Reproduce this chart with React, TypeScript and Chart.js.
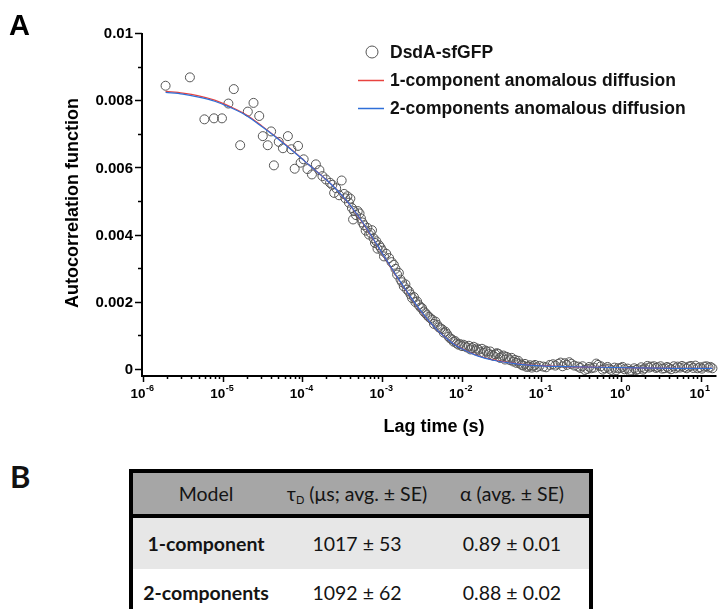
import React, { useEffect, useRef } from "react";
import { Chart, registerables } from "chart.js";
Chart.register(...registerables);

// Measured data: lag time (s) and autocorrelation G(t)
const lagTime = [
  1.92e-6, 3.88e-6, 5.9e-6, 7.78e-6, 9.8e-6, 1.18e-5, 1.38e-5, 1.66e-5, 2.07e-5, 2.44e-5,
  2.88e-5, 3.19e-5, 3.68e-5, 4.06e-5, 4.4e-5, 5.06e-5, 5.71e-5, 6.59e-5, 7.29e-5, 8.02e-5,
  8.84e-5, 9.53e-5, 1.04e-4, 1.16e-4, 1.32e-4, 1.48e-4, 1.64e-4, 1.79e-4, 1.98e-4, 2.23e-4,
  2.38e-4, 2.51e-4, 2.66e-4, 2.9e-4, 3.12e-4, 3.35e-4, 3.47e-4, 3.68e-4, 3.85e-4, 4.01e-4,
  4.2e-4, 4.34e-4, 4.47e-4, 4.72e-4, 4.96e-4, 5.23e-4, 5.45e-4, 5.68e-4, 5.95e-4, 6.25e-4,
  6.55e-4, 6.88e-4, 7.2e-4, 7.5e-4, 7.85e-4, 8.18e-4, 8.5e-4, 8.79e-4, 9.2e-4, 9.64e-4,
  1.01e-3, 1.06e-3, 1.13e-3, 1.23e-3, 1.32e-3, 1.41e-3, 1.48e-3, 1.55e-3, 1.63e-3, 1.71e-3,
  1.79e-3, 1.88e-3, 1.97e-3, 2.07e-3, 2.18e-3, 2.28e-3, 2.39e-3, 2.52e-3, 2.63e-3, 2.76e-3,
  2.9e-3, 3.05e-3, 3.19e-3, 3.35e-3, 3.52e-3, 3.7e-3, 3.87e-3, 4.06e-3, 4.3e-3, 4.5e-3,
  4.69e-3, 4.95e-3, 5.18e-3, 5.42e-3, 5.7e-3, 5.97e-3, 6.25e-3, 6.55e-3, 6.88e-3, 7.2e-3,
  7.56e-3, 7.94e-3, 8.3e-3, 8.7e-3, 9.17e-3, 9.6e-3, 1.01e-2, 1.06e-2, 1.11e-2, 1.17e-2,
  1.23e-2, 1.29e-2, 1.35e-2, 1.42e-2, 1.49e-2, 1.56e-2, 1.63e-2, 1.72e-2, 1.8e-2, 1.89e-2,
  1.98e-2, 2.07e-2, 2.18e-2, 2.29e-2, 2.39e-2, 2.52e-2, 2.64e-2, 2.76e-2, 2.9e-2, 3.04e-2,
  3.19e-2, 3.35e-2, 3.51e-2, 3.68e-2, 3.87e-2, 4.06e-2, 4.25e-2, 4.46e-2, 4.69e-2, 4.9e-2,
  5.15e-2, 5.4e-2, 5.68e-2, 5.95e-2, 6.25e-2, 6.55e-2, 6.88e-2, 7.2e-2, 7.6e-2, 7.95e-2,
  8.34e-2, 8.75e-2, 0.095, 0.106, 0.115, 0.128, 0.14, 0.15, 0.163, 0.175,
  0.185, 0.198, 0.21, 0.225, 0.239, 0.26, 0.29, 0.31, 0.33, 0.352,
  0.38, 0.4, 0.425, 0.46, 0.49, 0.516, 0.56, 0.59, 0.625, 0.68,
  0.71, 0.757, 0.83, 0.87, 0.917, 1.0, 1.05, 1.11, 1.22, 1.28,
  1.35, 1.47, 1.55, 1.63, 1.8, 1.9, 1.98, 2.15, 2.25, 2.39,
  2.6, 2.75, 2.9, 3.15, 3.3, 3.52, 3.8, 4.0, 4.26, 4.6,
  4.85, 5.16, 5.5, 5.85, 6.25, 6.7, 7.1, 7.57, 8.1, 8.6,
  9.17, 9.8, 10.4, 11.1, 11.9, 12.6, 13.3, 14.1,
];
const acf = [
  0.00843, 0.00868, 0.00743, 0.00746, 0.00746, 0.0079, 0.00833, 0.00666, 0.00766, 0.00792,
  0.00753, 0.00693, 0.00666, 0.00707, 0.00606, 0.00676, 0.00657, 0.00693, 0.00654, 0.00596,
  0.00664, 0.00614, 0.00624, 0.00595, 0.00579, 0.00609, 0.00592, 0.00574, 0.00564, 0.00554,
  0.00548, 0.00524, 0.00538, 0.00517, 0.00561, 0.00521, 0.00508, 0.00514, 0.00495, 0.00507,
  0.00479, 0.00445, 0.0047, 0.00458, 0.0047, 0.00463, 0.00448, 0.00436, 0.00428, 0.00412,
  0.0042, 0.004, 0.00405, 0.00413, 0.00389, 0.00375, 0.0038, 0.00358, 0.00368, 0.00361,
  0.00352, 0.00335, 0.00343, 0.0033, 0.00318, 0.0031, 0.00298, 0.00281, 0.00286, 0.00266,
  0.00258, 0.00246, 0.00252, 0.00236, 0.00231, 0.00222, 0.00211, 0.00214, 0.00199, 0.00201,
  0.0019, 0.00183, 0.00181, 0.00171, 0.00166, 0.0016, 0.00155, 0.00151, 0.00146, 0.00134,
  0.00141, 0.00131, 0.00124, 0.00121, 0.00118, 0.00108, 0.00111, 0.00104, 0.00096, 0.00091,
  0.00088, 0.00081, 0.00083, 0.00076, 0.00072, 0.00074, 0.00068, 0.00072, 0.00067, 0.00064,
  0.00069, 0.00058, 0.00062, 0.00066, 0.00055, 0.00061, 0.00057, 0.0005, 0.0006, 0.00048,
  0.00055, 0.00052, 0.00044, 0.00052, 0.00042, 0.00039, 0.00044, 0.00047, 0.00045, 0.00033,
  0.00037, 0.0004, 0.00028, 0.00036, 0.00032, 0.00026, 0.00033, 0.00022, 0.00027, 0.00018,
  0.00024, 0.00016, 0.00012, 0.0001, 0.00015, 0.00006, 0.00007, 0.00011, 0.00004, 0.00009,
  0.00012, 0.00005, 0.00009, 0.00007, 0.00005, 0.00012, 0.00014, 0.0001, 0.00015, 0.00019,
  0.00008, 0.00017, 0.00012, 0.0002, 0.00015, 0.0001, 0.00007, 0.00003, 0.00008, -0.00003,
  0.0, 0.00006, 0.00002, 0.00004, 0.00016, 0.00012, 0.00008, -0.00002, 0.00002, 0.00006,
  0.00001, -0.00003, 0.00004, -0.00004, 0.00002, 0.00003, 0.00006, -0.00001, 0.00001, -0.00006,
  -0.00005, 0.00002, -0.00003, -0.00001, 0.00005, -0.00002, 0.00002, 0.00009, 0.00004, 0.00007,
  0.00008, 0.00003, 0.00005, 0.00008, 0.00001, 0.00002, 0.00006, 0.00003, -0.00001, 0.00008,
  0.00002, 0.00007, 0.00004, 0.00009, 0.00005, 0.00002, 0.00007, 0.00009, 0.00003, 0.0001,
  0.00002, 0.00005, 0.00001, 0.00007, 0.00008, 0.00004, 0.00006, 0.00002,
];

// Fit curves
const fitTime = [
  1.92e-6, 3.16e-6, 5.01e-6, 7.94e-6, 1.26e-5, 2.0e-5, 3.16e-5, 5.01e-5, 7.94e-5, 1.26e-4,
  2.0e-4, 2.51e-4, 3.16e-4, 3.98e-4, 5.01e-4, 6.31e-4, 7.94e-4, 1.0e-3, 1.26e-3, 1.58e-3,
  2.0e-3, 2.51e-3, 3.16e-3, 3.98e-3, 5.01e-3, 6.31e-3, 7.94e-3, 1.0e-2, 1.58e-2, 2.51e-2,
  3.98e-2, 6.31e-2, 0.1, 0.2, 0.5, 1.58, 5.01, 14.1,
];
const fitOneComponent = [
  0.00826, 0.00821, 0.00813, 0.008, 0.0078, 0.00756, 0.00722, 0.00685, 0.00646, 0.00604,
  0.00563, 0.00541, 0.00515, 0.00487, 0.00455, 0.0042, 0.00383, 0.00345, 0.00307, 0.0027,
  0.00234, 0.002, 0.00168, 0.0014, 0.00114, 0.00093, 0.00075, 0.00061, 0.0004, 0.00027,
  0.00019, 0.00013, 0.0001, 0.00007, 0.00005, 0.00003, 0.00002, 0.00002,
];
const fitTwoComponents = [
  0.00823, 0.00818, 0.00809, 0.00797, 0.00778, 0.00754, 0.0072, 0.00684, 0.00645, 0.00604,
  0.00563, 0.00541, 0.00516, 0.00488, 0.00456, 0.00421, 0.00384, 0.00346, 0.00308, 0.00271,
  0.00235, 0.00201, 0.00169, 0.0014, 0.00114, 0.00093, 0.00074, 0.0006, 0.00039, 0.00026,
  0.00018, 0.00012, 0.00009, 0.00007, 0.00005, 0.00003, 0.00002, 0.00002,
];

// Axis ticks
const xDecadeExponents = [-6, -5, -4, -3, -2, -1, 0, 1];
const yMajorTicks = [0, 0.002, 0.004, 0.006, 0.008, 0.01];
const yTickLabels = ["0", "0.002", "0.004", "0.006", "0.008", "0.01"];
const yMinorTicks = [0.001, 0.003, 0.005, 0.007, 0.009];

const seriesNames = ["DsdA-sfGFP", "1-component anomalous diffusion", "2-components anomalous diffusion"];
const RED = "#e8433f";
const BLUE = "#2e6fd8";

const tableHeaders = ["Model", "τD", "α (avg. ± SE)"];
const tableModels = ["1-component", "2-components"];
const tableTau = ["1017 ± 53", "1092 ± 62"];
const tableAlpha = ["0.89 ± 0.01", "0.88 ± 0.02"];

const ARIAL = '"Liberation Sans", Arial, sans-serif';

const decorPlugin = {
  id: "decor",
  afterDatasetsDraw(chart: any) {
    const ctx = chart.ctx as CanvasRenderingContext2D;
    const xs = chart.scales.x;
    const ys = chart.scales.y;
    const a = chart.chartArea;
    ctx.save();
    ctx.fillStyle = "#000";
    ctx.strokeStyle = "#000";

    // axis lines
    ctx.lineWidth = 2;
    ctx.beginPath();
    ctx.moveTo(a.left - 1, a.top);
    ctx.lineTo(a.left - 1, a.bottom + 1);
    ctx.lineTo(a.right, a.bottom + 1);
    ctx.stroke();

    ctx.lineWidth = 1.5;
    // y ticks
    yMajorTicks.forEach((v) => {
      const py = Math.round(ys.getPixelForValue(v)) + 0.5;
      ctx.beginPath();
      ctx.moveTo(a.left - 8, py);
      ctx.lineTo(a.left - 1, py);
      ctx.stroke();
    });
    yMinorTicks.forEach((v) => {
      const py = Math.round(ys.getPixelForValue(v)) + 0.5;
      ctx.beginPath();
      ctx.moveTo(a.left - 5, py);
      ctx.lineTo(a.left - 1, py);
      ctx.stroke();
    });
    ctx.font = `bold 15px ${ARIAL}`;
    ctx.textAlign = "right";
    ctx.textBaseline = "middle";
    yMajorTicks.forEach((v, i) => {
      const py = ys.getPixelForValue(v);
      ctx.fillText(yTickLabels[i], a.left - 10, py + 1);
    });

    // x ticks
    const xmax = xs.max;
    xDecadeExponents.forEach((e) => {
      for (let k = 1; k <= 9; k++) {
        const v = k * Math.pow(10, e);
        if (v > xmax) break;
        const px = Math.round(xs.getPixelForValue(v)) + 0.5;
        ctx.beginPath();
        ctx.moveTo(px, a.bottom + 1);
        ctx.lineTo(px, a.bottom + (k === 1 ? 7 : 4));
        ctx.stroke();
      }
    });
    xDecadeExponents.forEach((e) => {
      const px = xs.getPixelForValue(Math.pow(10, e));
      ctx.font = `bold 13.5px ${ARIAL}`;
      const w1 = ctx.measureText("10").width;
      ctx.font = `bold 9px ${ARIAL}`;
      const sup = String(e);
      const w2 = ctx.measureText(sup).width;
      const x0 = px - (w1 + w2) / 2 - 1;
      ctx.textAlign = "left";
      ctx.textBaseline = "alphabetic";
      ctx.font = `bold 13.5px ${ARIAL}`;
      ctx.fillText("10", x0, a.bottom + 23);
      ctx.font = `bold 9px ${ARIAL}`;
      ctx.fillText(sup, x0 + w1 + 0.5, a.bottom + 16);
    });

    // axis titles
    ctx.font = `bold 18px ${ARIAL}`;
    ctx.textAlign = "center";
    ctx.textBaseline = "middle";
    ctx.fillText("Lag time (s)", 434, a.bottom + 52);
    ctx.save();
    ctx.translate(73, 203);
    ctx.rotate(-Math.PI / 2);
    ctx.fillText("Autocorrelation function", 0, 0);
    ctx.restore();

    // panel label
    ctx.font = `bold 29px ${ARIAL}`;
    ctx.textAlign = "left";
    ctx.textBaseline = "alphabetic";
    ctx.fillText("A", 9, 35);

    // legend
    ctx.font = `bold 17.5px ${ARIAL}`;
    ctx.textBaseline = "middle";
    ctx.fillStyle = "#111";
    ctx.lineWidth = 1;
    ctx.strokeStyle = "#555";
    ctx.beginPath();
    ctx.arc(372, 52, 6, 0, Math.PI * 2);
    ctx.stroke();
    ctx.fillText(seriesNames[0], 390, 53);
    ctx.lineWidth = 1.5;
    ctx.strokeStyle = RED;
    ctx.beginPath();
    ctx.moveTo(358, 80.5);
    ctx.lineTo(384, 80.5);
    ctx.stroke();
    ctx.fillText(seriesNames[1], 390, 81);
    ctx.strokeStyle = BLUE;
    ctx.beginPath();
    ctx.moveTo(358, 108.5);
    ctx.lineTo(384, 108.5);
    ctx.stroke();
    ctx.fillText(seriesNames[2], 390, 109);
    ctx.restore();
  },
};

function ChartPanel() {
  const ref = useRef<HTMLCanvasElement | null>(null);
  useEffect(() => {
    if (!ref.current) return;
    const chart = new Chart(ref.current, {
      type: "scatter",
      data: {
        datasets: [
          {
            type: "line",
            label: seriesNames[2],
            data: fitTime.map((t, i) => ({ x: t, y: fitTwoComponents[i] })),
            borderColor: BLUE,
            borderWidth: 1.2,
            pointRadius: 0,
            cubicInterpolationMode: "monotone",
            fill: false,
          },
          {
            type: "line",
            label: seriesNames[1],
            data: fitTime.map((t, i) => ({ x: t, y: fitOneComponent[i] })),
            borderColor: RED,
            borderWidth: 1.2,
            pointRadius: 0,
            cubicInterpolationMode: "monotone",
            fill: false,
          },
          {
            label: seriesNames[0],
            data: lagTime.map((t, i) => ({ x: t, y: acf[i] })),
            pointRadius: 4.5,
            pointBorderWidth: 1,
            pointBorderColor: "#555",
            pointBackgroundColor: "rgba(255,255,255,0)",
            showLine: false,
            clip: false,
          },
        ] as any,
      },
      options: {
        animation: false,
        responsive: false,
        maintainAspectRatio: false,
        layout: { padding: { left: 0, right: 3, top: 33, bottom: 0 } },
        plugins: { legend: { display: false }, tooltip: { enabled: false } },
        scales: {
          x: {
            type: "logarithmic",
            min: 1e-6,
            max: 15.85,
            grid: { display: false },
            border: { display: false },
            ticks: { display: false },
            afterFit: (s: any) => {
              s.height = 75;
            },
          },
          y: {
            type: "linear",
            min: -0.00018,
            max: 0.01,
            grid: { display: false },
            border: { display: false },
            ticks: { display: false },
            afterFit: (s: any) => {
              s.width = 143;
            },
          },
        },
      } as any,
      plugins: [decorPlugin],
    });
    return () => chart.destroy();
  }, []);
  return <canvas ref={ref} width={722} height={450} style={{ position: "absolute", left: 0, top: 0 }} />;
}

const cellFont = 'Lato, "Open Sans", sans-serif';

export default function App() {
  const colW = [146, 156, 154];
  const cell = (content: React.ReactNode, w: number, bold = false) => (
    <div
      style={{
        width: w,
        textAlign: "center",
        fontWeight: bold ? 700 : 400,
      }}
    >
      {content}
    </div>
  );
  const rowStyle = (h: number, bg: string): React.CSSProperties => ({
    height: h,
    background: bg,
    display: "flex",
    alignItems: "center",
  });
  return (
    <div
      style={{
        position: "fixed",
        left: 0,
        top: 0,
        width: 722,
        height: 609,
        overflow: "hidden",
        background: "#fff",
      }}
    >
      <ChartPanel />
      <div
        style={{
          position: "absolute",
          left: 10,
          top: 458,
          fontFamily: cellFont,
          fontWeight: 700,
          fontSize: 31,
          lineHeight: "36px",
          color: "#111",
        }}
      >
        B
      </div>
      <div
        style={{
          position: "absolute",
          left: 129,
          top: 469,
          width: 464,
          height: 200,
          border: "4px solid #000",
          boxSizing: "border-box",
          fontFamily: cellFont,
          fontSize: 19.5,
          color: "#141414",
        }}
      >
        <div style={{ ...rowStyle(41, "#a6a6a6"), borderBottom: "4px solid #000" }}>
          {cell(tableHeaders[0], colW[0])}
          {cell(
            <span>
              τ<sub style={{ fontSize: 11, verticalAlign: "-3px" }}>D</sub> (μs; avg. ± SE)
            </span>,
            colW[1]
          )}
          {cell(tableHeaders[2], colW[2])}
        </div>
        <div style={rowStyle(51, "#e7e7e7")}>
          {cell(tableModels[0], colW[0], true)}
          {cell(tableTau[0], colW[1])}
          {cell(tableAlpha[0], colW[2])}
        </div>
        <div style={rowStyle(46, "#ffffff")}>
          {cell(tableModels[1], colW[0], true)}
          {cell(tableTau[1], colW[1])}
          {cell(tableAlpha[1], colW[2])}
        </div>
      </div>
    </div>
  );
}
